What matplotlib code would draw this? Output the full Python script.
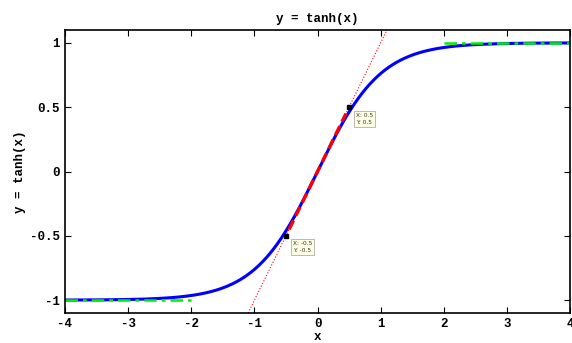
import numpy as np
import matplotlib
matplotlib.use("Agg")
import matplotlib.pyplot as plt

plt.rcParams['font.family'] = ['Liberation Mono', 'DejaVu Sans Mono']
plt.rcParams['font.weight'] = 'bold'
plt.rcParams['axes.unicode_minus'] = False

# curve and helper lines
x_range = [-4, 4]
tangent_range = [-1.1, 1.1]
dashed_range = [-0.45, 0.45]
low_asym_x = [-4, -2]
low_asym_y = [-1, -1]
high_asym_x = [2, 4]
high_asym_y = [1, 1]
tip_x = [-0.5, 0.5]
tip_y = [-0.5, 0.5]
tip_labels = ['X: -0.5\nY: -0.5', 'X: 0.5\nY: 0.5']

xticks = [-4, -3, -2, -1, 0, 1, 2, 3, 4]
yticks = [-1, -0.5, 0, 0.5, 1]
ytick_labels = ['-1', '-0.5', '0', '0.5', '1']

x = np.linspace(x_range[0], x_range[1], 400)
y = np.tanh(x)

fig = plt.figure(figsize=(5.72, 3.43), dpi=100)
ax = fig.add_axes([0.1136, 0.0875, 0.883, 0.825])

ax.plot(tangent_range, tangent_range, ':', color='red', lw=0.8)
ax.plot(x, y, '-', color='blue', lw=2.2)
ax.plot(dashed_range, dashed_range, '--', color='red', lw=2.4, dashes=(3, 1.5))
ax.plot(low_asym_x, low_asym_y, '-.', color='#00ee00', lw=1.8, dashes=(5, 2, 1.5, 2))
ax.plot(high_asym_x, high_asym_y, '-.', color='#00ee00', lw=1.8, dashes=(5, 2, 1.5, 2))

ax.plot(tip_x, tip_y, 's', color='black', ms=3)
for tx, ty, lab in zip(tip_x, tip_y, tip_labels):
    ax.annotate(lab, (tx, ty), xytext=(5, -4), textcoords='offset points',
                ha='left', va='top', fontsize=4.2, family='DejaVu Sans',
                weight='normal', color='#333333', linespacing=1.5,
                bbox=dict(boxstyle='square,pad=0.35', fc='#ffffe6', ec='#b0b0a0', lw=0.6))

ax.set_xlim(-4, 4)
ax.set_ylim(-1.1, 1.1)
ax.set_xticks(xticks)
ax.set_xticklabels([str(t) for t in xticks])
ax.set_yticks(yticks)
ax.set_yticklabels(ytick_labels)
ax.tick_params(direction='in', top=True, right=True, labelsize=9, length=4, width=0.8)
for s in ax.spines.values():
    s.set_linewidth(1.2)

ax.set_title('y = tanh(x)', fontsize=9, fontweight='bold', pad=6)
ax.set_xlabel('x', fontsize=9, fontweight='bold', labelpad=1)
ax.set_ylabel('y = tanh(x)', fontsize=9, fontweight='bold', labelpad=3)

fig.savefig('out.png', dpi=100)
